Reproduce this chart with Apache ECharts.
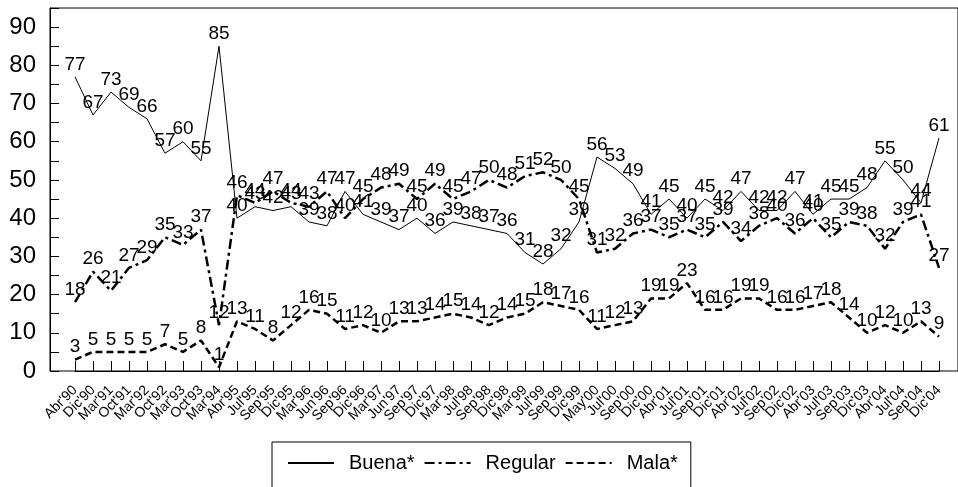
<!DOCTYPE html>
<html><head><meta charset="utf-8">
<script src="https://cdn.jsdelivr.net/npm/echarts@6/dist/echarts.min.js"></script>
<style>html,body{margin:0;padding:0;background:#fff}#c{width:958px;height:487px}</style>
</head><body><div id="c"></div>
<script>
const categories = ["Abr'90","Dic'90","Mar'91","Oct'91","Mar'92","Oct'92","Mar'93","Oct'93","Mar'94","Abr'95","Jul'95","Sep'95","Dic'95","Mar'96","Jun'96","Sep'96","Dic'96","Mar'97","Jun'97","Sep'97","Dic'97","Mar'98","Jul'98","Sep'98","Dic'98","Mar'99","Jul'99","Sep'99","Dic'99","May'00","Jul'00","Sep'00","Dic'00","Abr'01","Jul'01","Sep'01","Dic'01","Abr'02","Jul'02","Sep'02","Dic'02","Abr'03","Jul'03","Sep'03","Dic'03","Abr'04","Jul'04","Sep'04","Dic'04"];
const buena = [77,67,73,69,66,57,60,55,85,40,43,42,43,39,38,47,41,39,37,40,36,39,38,37,36,31,28,32,39,56,53,49,41,45,40,45,42,47,42,42,47,41,45,45,48,55,50,44,61];
const regular = [18,26,21,27,29,35,33,37,12,46,44,47,44,43,47,40,45,48,49,45,49,45,47,50,48,51,52,50,45,31,32,36,37,35,37,35,39,34,38,40,36,40,35,39,38,32,39,41,27];
const mala = [3,5,5,5,5,7,5,8,1,13,11,8,12,16,15,11,12,10,13,13,14,15,14,12,14,15,18,17,16,11,12,13,19,19,23,16,16,19,19,16,16,17,18,14,10,12,10,13,9];
const seriesNames = ["Buena*","Regular","Mala*"];

const FONT = "'Liberation Sans', Arial, sans-serif";

const chart = echarts.init(document.getElementById('c'));
const labelCfg = {show: true, position: 'top', distance: 3, fontSize: 19, color: '#000', fontFamily: FONT};
const mk = (name, data, lw, type) => ({
  name, type: 'line', data, symbol: 'circle', symbolSize: 0.01, showSymbol: true,
  lineStyle: {color: '#000', width: lw, type}, itemStyle: {color: '#000'}, label: labelCfg,
  labelLayout: {hideOverlap: false},
  emphasis: {disabled: true}
});
chart.setOption({
  animation: false,
  backgroundColor: '#fff',
  textStyle: {fontFamily: FONT, color: '#000'},
  grid: [
    {left: 75, right: 19, top: 8, bottom: 116},
    {left: 50, right: -8, top: 8, bottom: 116, show: true, borderColor: '#000', borderWidth: 1, backgroundColor: 'transparent'}
  ],
  xAxis: [{
    type: 'category', data: categories, boundaryGap: false, gridIndex: 0,
    axisLine: {show: true, lineStyle: {color: '#000', width: 1}},
    axisTick: {show: true, inside: true, length: 10, interval: 0, lineStyle: {color: '#000'}},
    axisLabel: {interval: 0, rotate: 45, fontSize: 14, color: '#000', margin: 17, fontFamily: FONT},
    splitLine: {show: false}
  }, {type: 'value', gridIndex: 1, show: false}],
  yAxis: [{
    type: 'value', min: 0, max: 95, interval: 5, gridIndex: 0, offset: 25,
    axisLine: {show: true, lineStyle: {color: '#000', width: 1}},
    axisTick: {show: true, inside: true, length: 9, lineStyle: {color: '#000'}},
    axisLabel: {fontSize: 24, color: '#000', margin: 14, fontFamily: FONT,
      formatter: v => (v % 10 === 0 ? String(v) : '')},
    splitLine: {show: false}
  }, {type: 'value', gridIndex: 1, show: false}],
  legend: {
    data: seriesNames, left: 272, top: 442,
    itemWidth: 46, itemHeight: 14, itemGap: 9,
    borderColor: '#000', borderWidth: 1, borderRadius: 0,
    padding: [11, 13, 16, 15],
    itemStyle: {opacity: 0},
    textStyle: {fontSize: 20, color: '#000', fontFamily: FONT, padding: [0, 0, 0, 10]}
  },
  series: [
    mk(seriesNames[0], buena, 1, 'solid'),
    mk(seriesNames[1], regular, 2.5, [10, 4, 3, 4]),
    mk(seriesNames[2], mala, 2.5, [7, 4])
  ]
});
</script></body></html>
